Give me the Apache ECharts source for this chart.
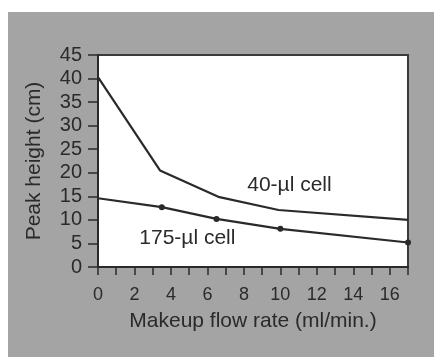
<!DOCTYPE html>
<html><head><meta charset="utf-8">
<script src="https://cdn.jsdelivr.net/npm/echarts@6/dist/echarts.min.js"></script>
<style>html,body{margin:0;padding:0;background:#fff}#c{width:434px;height:357px}</style>
</head><body><div id="c"></div>
<script>
const cell40X = [0, 3.4, 6.6, 9.9, 17];
const cell40Y = [40.3, 20.5, 14.9, 12.1, 10.0];
const cell175X = [0, 3.5, 6.5, 10, 17];
const cell175Y = [14.6, 12.7, 10.2, 8.1, 5.2];
const cell175Markers = [false, true, true, true, true];
const xTicks = [0, 2, 4, 6, 8, 10, 12, 14, 16];
const yTicks = [0, 5, 10, 15, 20, 25, 30, 35, 40, 45];
const seriesNames = ['40-µl cell', '175-µl cell'];

const chart = echarts.init(document.getElementById('c'), null, {renderer: 'canvas'});
const font = 'Liberation Sans, Arial, sans-serif';
const ink = '#2a2a2a';
const bgRect = {type: 'rect', shape: {x: 8, y: 12, width: 426, height: 345}, style: {fill: '#a4a4a4'}, z: -10};
chart.setOption({
  backgroundColor: '#ffffff',
  animation: false,
  graphic: [bgRect],
  grid: {left: 98, top: 55, right: 26, bottom: 90, show: true, backgroundColor: '#ffffff', borderColor: '#3a3a3a', borderWidth: 2},
  xAxis: {
    type: 'value', min: 0, max: 17, interval: 1,
    name: 'Makeup flow rate (ml/min.)', nameLocation: 'middle', nameGap: 44,
    nameTextStyle: {fontFamily: font, fontSize: 21, color: ink},
    axisLine: {lineStyle: {color: ink, width: 2}},
    axisTick: {length: 8, lineStyle: {color: ink, width: 1.5}},
    splitLine: {show: false},
    axisLabel: {fontFamily: font, fontSize: 18, color: ink, margin: 19,
      formatter: v => xTicks.indexOf(v) >= 0 ? String(v) : ''}
  },
  yAxis: {
    type: 'value', min: 0, max: 45, interval: 5,
    name: 'Peak height (cm)', nameLocation: 'middle', nameGap: 53,
    nameTextStyle: {fontFamily: font, fontSize: 21, color: ink},
    axisLine: {lineStyle: {color: ink, width: 2}},
    axisTick: {length: 10, lineStyle: {color: ink, width: 1.5}},
    splitLine: {show: false},
    axisLabel: {fontFamily: font, fontSize: 20, color: ink, margin: 16,
      formatter: v => yTicks.indexOf(v) >= 0 ? String(v) : ''}
  },
  series: [
    {name: seriesNames[0], type: 'line', data: cell40X.map((x, i) => [x, cell40Y[i]]),
     showSymbol: false, lineStyle: {color: ink, width: 2.2}, itemStyle: {color: ink}},
    {name: seriesNames[1], type: 'line', data: cell175X.map((x, i) => ({value: [x, cell175Y[i]], symbolSize: cell175Markers[i] ? 6 : 0})),
     symbol: 'circle', showSymbol: true, lineStyle: {color: ink, width: 2.2}, itemStyle: {color: ink}}
  ]
});
// series labels placed in data coordinates
const lab1 = chart.convertToPixel({gridIndex: 0}, [10.5, 17.4]);
const lab2 = chart.convertToPixel({gridIndex: 0}, [4.9, 6.2]);
chart.setOption({graphic: [
  bgRect,
  {type: 'text', x: lab1[0], y: lab1[1], style: {text: seriesNames[0], font: '21px ' + font, fill: ink, textAlign: 'center', textVerticalAlign: 'middle'}, z: 10},
  {type: 'text', x: lab2[0], y: lab2[1], style: {text: seriesNames[1], font: '21px ' + font, fill: ink, textAlign: 'center', textVerticalAlign: 'middle'}, z: 10}
]});
</script></body></html>
